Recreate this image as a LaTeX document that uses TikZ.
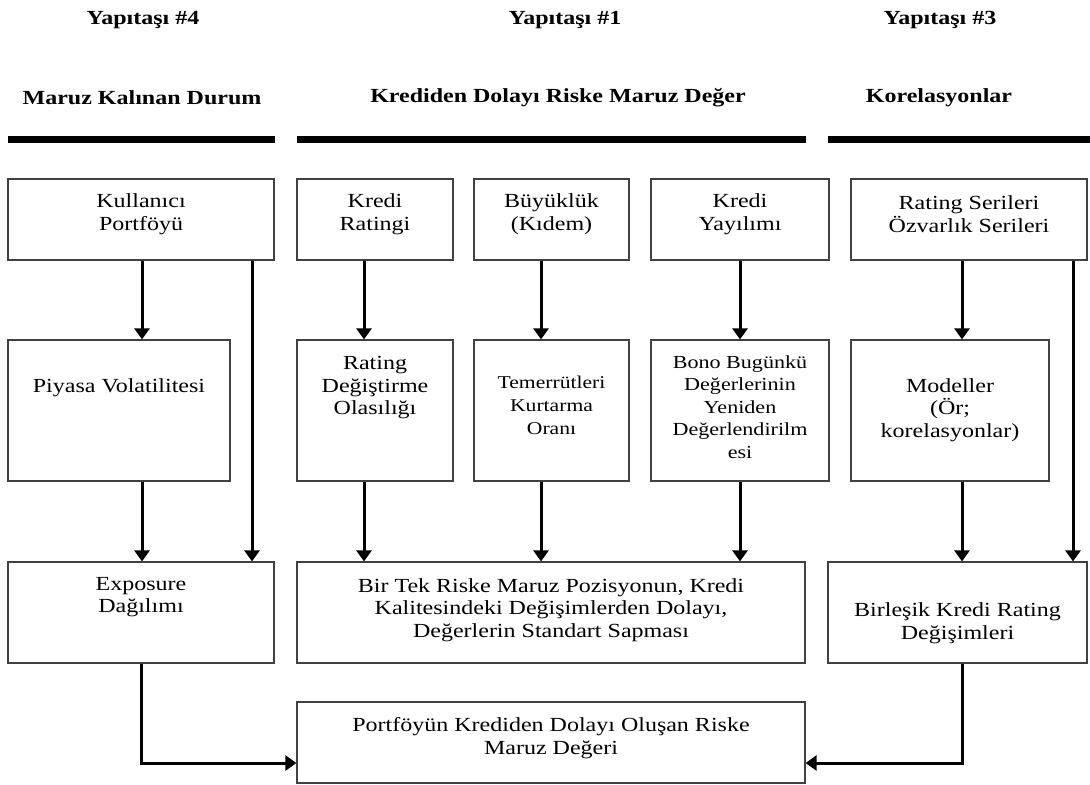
\documentclass[tikz,border=0pt]{standalone}
\usepackage{fontspec}
\setmainfont[FakeStretch=1.2]{Liberation Serif}
\usetikzlibrary{arrows.meta}
\newcommand*{\BoxNode}[8][]{% #1 = text options, #2 = name, #3-#6 = left/top/right/bottom, #7 = text y, #8 = text
\node [box, minimum width={(#5-#3)*0.5pt}, minimum height={(#6-#4)*0.5pt},
label={[boxtext, #1, yshift={((#4+#6)/2-#7)*0.5pt}]center:{#8}}]
(#2) at ({(#3+#5)/2},{(#4+#6)/2}) {};%
}
\tikzset{
box/.style={draw=black!75, line width=0.6pt, inner sep=0pt},
boxtext/.style={align=center, font=\fontsize{10}{11.25}\selectfont, inner sep=0pt},
head/.style={font=\fontsize{10}{12}\selectfont\bfseries, inner sep=0pt},
bar/.style={line width=3.5pt},
arr/.style={line width=1.5pt, -{Triangle[length=5.5pt,width=7.5pt]}},
}

\begin{document}
\begin{tikzpicture}[x=0.5pt, y=-0.5pt]
\useasboundingbox (0,0) rectangle (1090,784);

% headings
\node [head] (y4) at (143,20) {Yapıtaşı \#4};
\node [head] (y1) at (565,20) {Yapıtaşı \#1};
\node [head] (y3) at (940,20) {Yapıtaşı \#3};
\node [head] (t4) at (142,98) {Maruz Kalınan Durum};
\node [head] (t1) at (558,98) {Krediden Dolayı Riske Maruz Değer};
\node [head] (t3) at (939,98) {Korelasyonlar};
\draw [bar] (8,139) -- (275,139);
\draw [bar] (297,139) -- (806,139);
\draw [bar] (828,139) -- (1090,139);

% boxes
\BoxNode{ku}{8}{179}{274}{260}{214}{Kullanıcı\\Portföyü}
\BoxNode{kr}{297}{179}{453}{260}{214}{Kredi\\Ratingi}
\BoxNode{bu}{474}{179}{629}{260}{214}{Büyüklük\\(Kıdem)}
\BoxNode{ky}{651}{179}{829}{260}{214}{Kredi\\Yayılımı}
\BoxNode{rs}{851}{179}{1087}{260}{214}{Rating Serileri\\Özvarlık Serileri}

\BoxNode{pv}{8}{340}{230}{481}{388}{Piyasa Volatilitesi}
\BoxNode{rd}{297}{340}{453}{481}{388}{Rating\\Değiştirme\\Olasılığı}
\BoxNode[font=\fontsize{9}{11.5}\selectfont]{tk}{474}{340}{629}{481}{405}{Temerrütleri\\Kurtarma\\Oranı}
\BoxNode[font=\fontsize{9.2}{11.25}\selectfont]{bb}{651}{340}{829}{481}{407}{Bono Bugünkü\\Değerlerinin\\Yeniden\\Değerlendirilm\\esi}
\BoxNode{mo}{851}{340}{1049}{481}{410}{Modeller\\(Ör;\\korelasyonlar)}

\BoxNode{ex}{8}{562}{274}{663}{597}{Exposure\\Dağılımı}
\BoxNode{bt}{297}{562}{805}{663}{610}{Bir Tek Riske Maruz Pozisyonun, Kredi\\Kalitesindeki Değişimlerden Dolayı,\\Değerlerin Standart Sapması}
\BoxNode{bk}{828}{562}{1087}{663}{623}{Birleşik Kredi Rating\\Değişimleri}

\BoxNode{pf}{297}{702}{805}{783}{738}{Portföyün Krediden Dolayı Oluşan Riske\\Maruz Değeri}

% arrows
\foreach \a/\b/\x in {ku/pv/142, pv/ex/142, ku/ex/252, kr/rd/364, rd/bt/364,
  bu/tk/541, tk/bt/541, ky/bb/740, bb/bt/740, rs/mo/962, mo/bk/962, rs/bk/1073} {
\draw [arr] (\a.south -| \x,0) -- (\b.north -| \x,0);
}
\draw [arr] (ex.south) |- ([yshift=-10.25pt]pf.west);
\draw [arr] (bk.south -| 962,0) |- ([yshift=-10.25pt]pf.east);

\end{tikzpicture}
\end{document}
